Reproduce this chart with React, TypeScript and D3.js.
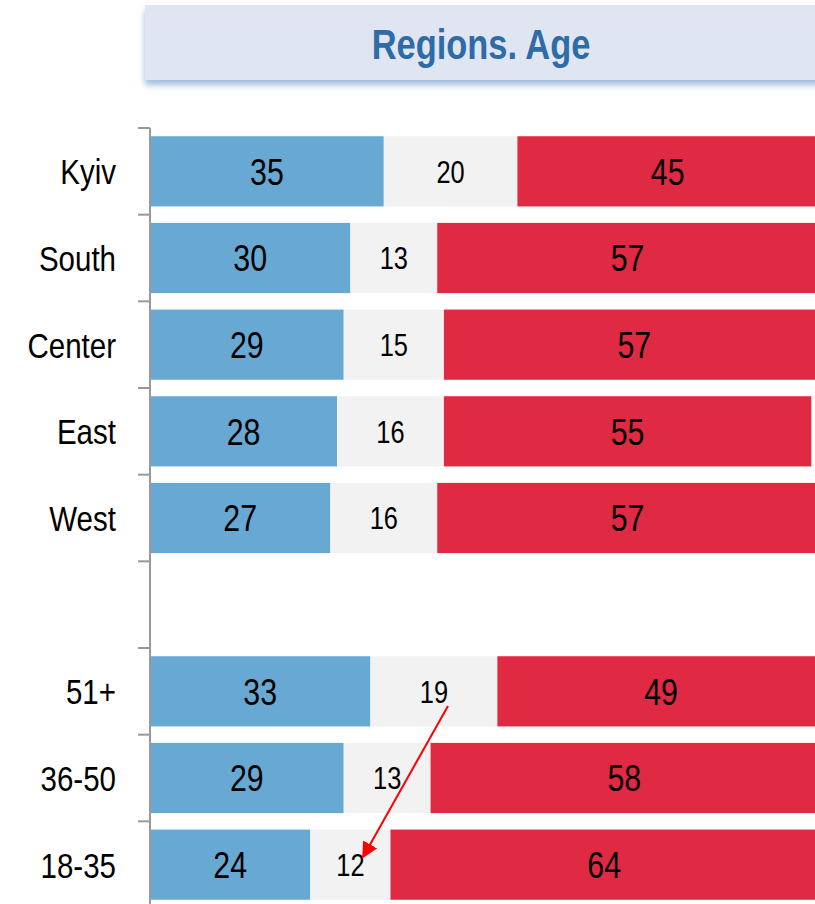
import React from "react";
import * as d3 from "d3";

const categories = ["Kyiv", "South", "Center", "East", "West", "", "51+", "36-50", "18-35"];
const positive = [35, 30, 29, 28, 27, null, 33, 29, 24];
const neutral = [20, 13, 15, 16, 16, null, 19, 13, 12];
const negative = [45, 57, 57, 55, 57, null, 49, 58, 64];
const title = "Regions. Age";

const W = 815;
const H = 904;
const FONT = "'Liberation Sans', Arial, sans-serif";
const NARROW = 0.82;
const COLORS = ["#67A9D3", "#F2F2F2", "#E02A43"];

// Condensed text: regular sans squeezed horizontally
function NText(props: {
  x: number;
  y: number;
  size: number;
  anchor?: "start" | "middle" | "end";
  weight?: string;
  fill?: string;
  dy?: string;
  children: React.ReactNode;
}) {
  const { x, y, size, anchor = "middle", weight = "normal", fill = "#000", dy, children } = props;
  return (
    <g transform={`translate(${x},${y}) scale(${NARROW},1)`}>
      <text textAnchor={anchor} fontSize={size} fontWeight={weight} fill={fill} dy={dy}>
        {children}
      </text>
    </g>
  );
}

export default function App() {
  const x = d3.scaleLinear().domain([0, 100]).range([150, 818]);
  const y = d3
    .scaleBand<string>()
    .domain(categories.map((c, i) => `${i}`))
    .range([128, 908])
    .paddingInner(0.19)
    .paddingOuter(0.095);
  const step = y.step();
  const ticks = d3.range(categories.length + 1).map((i) => 128 + i * step);

  const rows = categories.map((c, i) => {
    const vals = [positive[i], neutral[i], negative[i]];
    if (vals[0] == null) return null;
    let acc = 0;
    const segs = (vals as number[]).map((v, k) => {
      const s = { k, v, x0: x(acc), x1: x(acc + v) };
      acc += v;
      return s;
    });
    return { c, i, segs };
  });

  return (
    <svg width={W} height={H} style={{ position: "absolute", left: 0, top: 0 }} fontFamily={FONT}>
      <defs>
        <filter id="shadow" x="-5%" y="-20%" width="110%" height="160%">
          <feDropShadow dx="0" dy="5" stdDeviation="3" floodColor="#8fb0d6" floodOpacity="0.85" />
        </filter>
        <marker id="arrow" viewBox="0 0 10 10" refX="9" refY="5" markerWidth="8" markerHeight="8" orient="auto">
          <path d="M0,0 L10,5 L0,10 z" fill="#FF0000" />
        </marker>
      </defs>

      <rect x={145} y={5} width={680} height={75} fill="#DFE6F2" filter="url(#shadow)" />
      <NText x={481} y={59} size={42} weight="bold" fill="#2E6BA7">
        {title}
      </NText>

      {rows.map((r) =>
        r ? (
          <g key={r.i}>
            {r.segs.map((s) => (
              <rect
                key={s.k}
                x={s.x0}
                y={y(`${r.i}`)!}
                width={s.x1 - s.x0}
                height={y.bandwidth()}
                fill={COLORS[s.k]}
              />
            ))}
            {r.segs.map((s) => (
              <NText
                key={`t${s.k}`}
                x={(s.x0 + s.x1) / 2}
                y={y(`${r.i}`)! + y.bandwidth() / 2}
                dy="0.36em"
                size={s.k === 1 ? 31 : 37}
              >
                {s.v}
              </NText>
            ))}
            <NText x={116} y={y(`${r.i}`)! + y.bandwidth() / 2} dy="0.36em" anchor="end" size={36}>
              {r.c}
            </NText>
          </g>
        ) : null
      )}

      <line x1={150} x2={150} y1={128} y2={H} stroke="#999" strokeWidth={2} />
      {ticks.map((t, i) => (
        <line key={i} x1={138} x2={150} y1={t} y2={t} stroke="#999" strokeWidth={2} />
      ))}

      <line
        x1={448}
        y1={706}
        x2={363}
        y2={857}
        stroke="#FF0000"
        strokeWidth={2}
        markerEnd="url(#arrow)"
      />
    </svg>
  );
}
